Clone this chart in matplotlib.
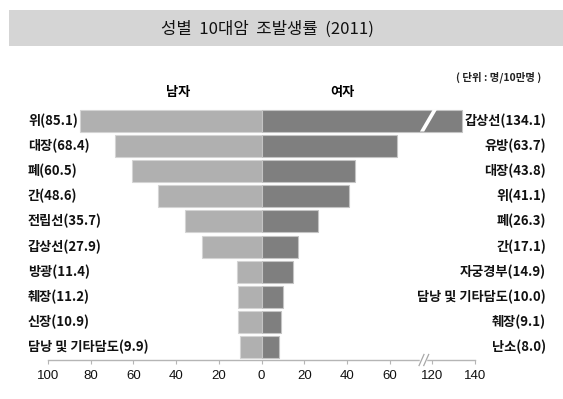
import matplotlib
matplotlib.use("Agg")
import matplotlib.pyplot as plt
from matplotlib.patches import Rectangle, Polygon
from matplotlib.transforms import blended_transform_factory
import numpy as np

male_cats = ['위', '대장', '폐', '간', '전립선', '갑상선', '방광', '췌장', '신장', '담낭 및 기타담도']
male_vals = [85.1, 68.4, 60.5, 48.6, 35.7, 27.9, 11.4, 11.2, 10.9, 9.9]
female_cats = ['갑상선', '유방', '대장', '위', '폐', '간', '자궁경부', '담낭 및 기타담도', '췌장', '난소']
female_vals = [134.1, 63.7, 43.8, 41.1, 26.3, 17.1, 14.9, 10.0, 9.1, 8.0]
tick_vals = [-100, -80, -60, -40, -20, 0, 20, 40, 60, 120, 140]
tick_labels = ['100', '80', '60', '40', '20', '0', '20', '40', '60', '120', '140']
title = '성별  10대암  조발생률  (2011)'
unit_text = '( 단위 : 명/10만명 )'

KR = ['Noto Sans CJK KR', 'DejaVu Sans']
NUM = ['Liberation Sans Narrow', 'Liberation Sans', 'DejaVu Sans']

W, H = 563, 399
BREAK_SHIFT = 40  # axis break: values above the break are shifted left by 40


def tr(v):
    v = np.asarray(v, dtype=float)
    return np.where(v > 100, v - BREAK_SHIFT, v)


fig = plt.figure(figsize=(W / 100, H / 100), dpi=100)


def fx(px):
    return px / W


def fy(py):
    return 1 - py / H


# title box
fig.patches.append(Rectangle((fx(9), fy(46)), fx(W - 9), 36 / H, transform=fig.transFigure,
                             facecolor='#d5d5d5', edgecolor='none', zorder=0))
fig.text(fx(267), fy(29), title, ha='center', va='center', fontsize=12, family=KR, color='#111111')
fig.text(fx(541), fy(77), unit_text, ha='right', va='center', fontsize=7.5, family=KR,
         fontweight='bold', color='#222222')
fig.text(fx(178), fy(92), '남자', ha='center', va='center', fontsize=9.5, family=KR, fontweight='bold')
fig.text(fx(342), fy(92), '여자', ha='center', va='center', fontsize=9.5, family=KR, fontweight='bold')

ax = fig.add_axes([fx(48), fy(360), fx(475 - 48), (360 - 108) / H])
y = np.arange(len(male_vals))
ax.barh(y, -np.array(male_vals), height=0.87, color='#b0b0b0', edgecolor='#d4d4d4', linewidth=0.8)
ax.barh(y, tr(female_vals), height=0.87, color='#7f7f7f', edgecolor='#c4c4c4', linewidth=0.8)
ax.set_xlim(-100, 100)
ax.set_ylim(len(male_vals) - 0.5, -0.5)

# bar break (white slash) on bars beyond the break
for i, v in enumerate(female_vals):
    if v > 100:
        hb = 0.435
        ax.add_patch(Polygon([(74.2, i + hb), (76.2, i + hb), (82.2, i - hb), (80.2, i - hb)],
                             closed=True, facecolor='white', edgecolor='none', zorder=5))

for sp in ['left', 'right', 'top']:
    ax.spines[sp].set_visible(False)
ax.spines['bottom'].set_color('#b5b5b5')
ax.spines['bottom'].set_linewidth(1)
ax.set_yticks([])
ax.set_xticks(tr(tick_vals))
ax.set_xticklabels(tick_labels, family=NUM, fontsize=9.5, color='#111111')
ax.tick_params(axis='x', direction='out', length=3, color='#b5b5b5', pad=4)

# axis break marks
ax.plot([74.6, 76.6], [9.5, 9.5], color='white', lw=2.5, clip_on=False, zorder=6)
for x0 in (73.8, 76.0):
    ax.plot([x0, x0 + 2.3], [9.5 + 0.22, 9.5 - 0.22], color='#a8a8a8', lw=0.9, clip_on=False, zorder=7)

# category labels
lbl_tr = blended_transform_factory(fig.transFigure, ax.transData)
for i, (c, v) in enumerate(zip(male_cats, male_vals)):
    ax.text(fx(28), i, f'{c}({v:.1f})', transform=lbl_tr,
            ha='left', va='center', fontsize=9.5, family=KR, fontweight='bold', color='#111111')
for i, (c, v) in enumerate(zip(female_cats, female_vals)):
    ax.text(fx(546), i, f'{c}({v:.1f})', transform=lbl_tr,
            ha='right', va='center', fontsize=9.5, family=KR, fontweight='bold', color='#111111')

fig.savefig('out.png', dpi=100)
